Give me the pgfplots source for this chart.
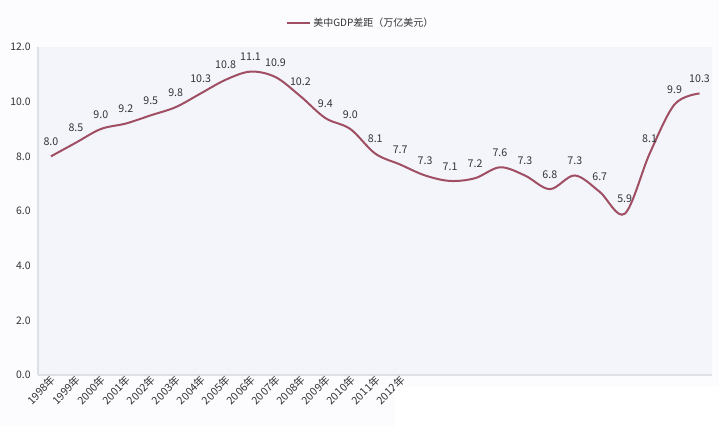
\documentclass[border=0pt]{standalone}
\usepackage{fontspec}
\setmainfont{Noto Sans CJK SC}
\usepackage{pgfplots}
\pgfplotsset{compat=1.18}
\definecolor{linec}{HTML}{A04E63}
\definecolor{plotbg}{HTML}{F3F5FA}
\definecolor{outerbg}{HTML}{FCFCFE}
\definecolor{axc}{HTML}{DDE0E7}
\definecolor{txt}{HTML}{333338}
\begin{document}
\begin{tikzpicture}[x=0.75pt,y=0.75pt]
\fill[outerbg] (-38,-51) rectangle (681,375);
\begin{axis}[
  name=ax,
  at={(0,0)}, anchor=south west,
  scale only axis,
  width=505.5pt, height=246pt,
  xmin=-0.52, xmax=26.5,
  ymin=0, ymax=12,
  axis x line*=bottom, axis y line*=left,
  axis line style={axc, line width=0.8pt, -},
  axis background/.style={fill=plotbg},
  major tick length=0pt,
  ytick={0,2,4,6,8,10,12},
  yticklabel style={/pgf/number format/fixed,/pgf/number format/precision=1,/pgf/number format/fixed zerofill, font=\fontsize{7.8}{9}\selectfont, text=txt, xshift=-2pt},
  /pgf/number format/assume math mode=true,
  xtick={0,1,...,14},
  xticklabels={1998年,1999年,2000年,2001年,2002年,2003年,2004年,2005年,2006年,2007年,2008年,2009年,2010年,2011年,2012年},
  xticklabel style={rotate=45, anchor=east, font=\fontsize{8}{9}\selectfont, text=txt, inner sep=1pt, yshift=-3pt, xshift=1pt},
  legend style={at={(0.5,1)}, anchor=center, yshift=18pt, xshift=-10.5pt, draw=none, fill=none, font=\fontsize{7.5}{9}\selectfont, text=txt},
  nodes near coords,
  nodes near coords style={font=\fontsize{8}{9}\selectfont, text=txt, anchor=south, yshift=4pt,
    /pgf/number format/fixed,/pgf/number format/precision=1,/pgf/number format/fixed zerofill},
  clip=false,
]
\addplot[linec, line width=1.5pt, smooth, tension=0.55, mark=none] coordinates {
(0,8.0) (1,8.5) (2,9.0) (3,9.2) (4,9.5) (5,9.8) (6,10.3) (7,10.8) (8,11.1) (9,10.9)
(10,10.2) (11,9.4) (12,9.0) (13,8.1) (14,7.7) (15,7.3) (16,7.1) (17,7.2) (18,7.6) (19,7.3)
(20,6.8) (21,7.3) (22,6.7) (23,5.9) (24,8.1) (25,9.9) (26,10.3)};
\addlegendentry{美中GDP差距（万亿美元）}
\end{axis}
\fill[white] (357,-12) rectangle (681,-51);
\useasboundingbox (-38,-51) rectangle (681,375);
\end{tikzpicture}
\end{document}
